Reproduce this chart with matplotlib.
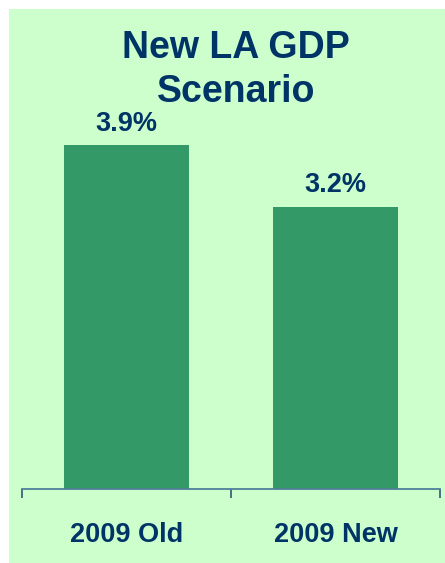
import matplotlib
matplotlib.use("Agg")
import matplotlib.pyplot as plt
from matplotlib.patches import Rectangle

categories = ["2009 Old", "2009 New"]
values = [3.9, 3.2]
value_labels = ["3.9%", "3.2%"]
title = "New LA GDP\nScenario"

W, H = 445, 563
fig = plt.figure(figsize=(W / 100, H / 100), dpi=100)
fig.patch.set_facecolor("white")
plt.rcParams["font.family"] = ["Liberation Sans", "DejaVu Sans"]

# light green panel
fig.patches.append(Rectangle((9 / W, 0), 1 - 9 / W, 1 - 9 / H, transform=fig.transFigure,
                             facecolor="#CCFFCC", edgecolor="none", zorder=-5))

ax = fig.add_axes([22 / W, (H - 489) / H, 418 / W, 389 / H])
ax.set_zorder(2)
ax.set_facecolor("none")
x = list(range(len(categories)))
ax.bar(x, values, width=0.595, color="#339966", zorder=2)
ax.set_xlim(-0.5, len(categories) - 0.5)
ax.set_ylim(0, 389 / 88.2)

for xi, v, lab in zip(x, values, value_labels):
    ax.annotate(lab, (xi, v), xytext=(0, 6), textcoords="offset points",
                ha="center", va="bottom", fontsize=19.5, fontweight="bold", color="#003366")

for s in ["left", "right", "top"]:
    ax.spines[s].set_visible(False)
ax.spines["bottom"].set_color("#4F7F9A")
ax.spines["bottom"].set_linewidth(1.3)
ax.set_yticks([])
ax.set_xticks(x)
ax.set_xticklabels(categories, fontsize=19.5, fontweight="bold", color="#003366")
ax.tick_params(axis="x", which="major", length=0, pad=24)
ax.set_xticks([-0.5, 0.5, 1.5], minor=True)
ax.tick_params(axis="x", which="minor", length=6.5, width=1.2, color="#335577", direction="out")

fig.text(236 / W, 1 - 70 / H, title, ha="center", va="center", fontsize=27,
         fontweight="bold", color="#003366", linespacing=1.25, zorder=3)

fig.savefig("out.png", dpi=100)
